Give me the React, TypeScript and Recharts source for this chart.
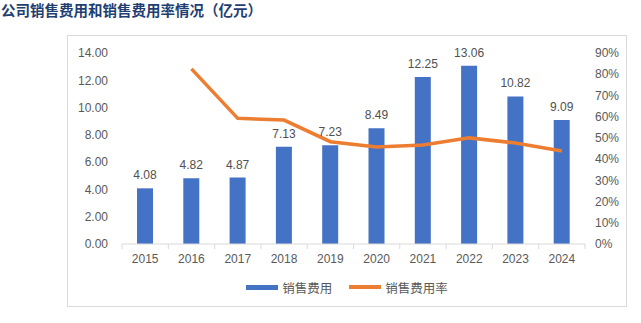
import React from 'react';
import { ComposedChart, Bar, Line, XAxis, YAxis, Legend, LabelList } from 'recharts';

const years = ['2015', '2016', '2017', '2018', '2019', '2020', '2021', '2022', '2023', '2024'];
const salesExpense = [4.08, 4.82, 4.87, 7.13, 7.23, 8.49, 12.25, 13.06, 10.82, 9.09];
const salesExpenseRate: (number | null)[] = [null, 82.5, 59.2, 58.4, 48.2, 45.7, 46.7, 50.0, 47.6, 43.8];
const leftTicks = [0, 2, 4, 6, 8, 10, 12, 14];
const rightTicks = [0, 10, 20, 30, 40, 50, 60, 70, 80, 90];

const data = years.map((y, i) => ({ year: y, expense: salesExpense[i], rate: salesExpenseRate[i] }));

const FONT = '"Liberation Sans", "Noto Sans CJK SC", sans-serif';
const GRAY = '#595959';

const XTick = (props: any) => {
  const { x, y, payload, index, width, visibleTicksCount } = props;
  const band = width / (visibleTicksCount || years.length);
  const axisY = y - 10;
  return (
    <g>
      <line x1={x - band / 2} x2={x - band / 2} y1={axisY} y2={axisY + 5} stroke="#d9d9d9" />
      {index === years.length - 1 && (
        <line x1={x + band / 2} x2={x + band / 2} y1={axisY} y2={axisY + 5} stroke="#d9d9d9" />
      )}
      <text x={x} y={y} dy="0.71em" textAnchor="middle" fill={GRAY} fontSize={12} fontFamily={FONT}>
        {payload.value}
      </text>
    </g>
  );
};

const LegendContent = (props: any) => {
  const { payload } = props;
  return (
    <div style={{ display: 'flex', justifyContent: 'center', alignItems: 'center', height: 24, fontFamily: FONT }}>
      {payload.map((p: any, i: number) => (
        <div key={i} style={{ display: 'flex', alignItems: 'center', marginLeft: i === 0 ? 0 : 17 }}>
          <div style={{ width: 32, height: p.type === 'line' ? 3.5 : 5, background: p.color, marginRight: 4 }} />
          <span style={{ fontSize: 12.5, color: GRAY }}>{p.value}</span>
        </div>
      ))}
    </div>
  );
};

export default function App() {
  return (
    <div style={{ position: 'absolute', left: 0, top: 0, width: 641, height: 323, background: '#fff' }}>
      <div
        style={{
          position: 'absolute',
          left: 1,
          top: 1,
          fontFamily: '"Noto Sans CJK SC", sans-serif',
          fontWeight: 'bold',
          fontSize: 14.5,
          lineHeight: '18px',
          color: '#1F3F73',
          whiteSpace: 'nowrap',
        }}
      >
        公司销售费用和销售费用率情况（亿元）
      </div>
      <div
        style={{
          position: 'absolute',
          left: 67,
          top: 35,
          width: 560,
          height: 272,
          border: '1px solid #d9d9d9',
          boxSizing: 'border-box',
        }}
      >
        <ComposedChart width={558} height={270} data={data} margin={{ top: 17, right: 0, left: 0, bottom: 7 }}>
          <XAxis
            dataKey="year"
            height={31}
            tickLine={false}
            tickSize={0}
            tickMargin={10}
            axisLine={{ stroke: '#d9d9d9' }}
            tick={<XTick />}
            interval={0}
          />
          <YAxis
            yAxisId="left"
            width={54}
            domain={[0, 14]}
            ticks={leftTicks}
            tickFormatter={(v: number) => v.toFixed(2)}
            axisLine={false}
            tickLine={false}
            tickSize={0}
            tickMargin={14}
            tick={{ fill: GRAY, fontSize: 12, fontFamily: FONT }}
          />
          <YAxis
            yAxisId="right"
            orientation="right"
            width={41}
            domain={[0, 90]}
            ticks={rightTicks}
            tickFormatter={(v: number) => `${v}%`}
            axisLine={false}
            tickLine={false}
            tickSize={0}
            tickMargin={10}
            tick={{ fill: GRAY, fontSize: 12, fontFamily: FONT, textAnchor: 'start' }}
          />
          <Legend verticalAlign="bottom" height={24} content={<LegendContent />} />
          <Bar yAxisId="left" dataKey="expense" name="销售费用" fill="#4472C4" barSize={16} isAnimationActive={false} legendType="rect">
            <LabelList
              dataKey="expense"
              position="top"
              offset={9}
              formatter={(v: number) => v.toFixed(2)}
              style={{ fill: '#505050', fontSize: 12, fontFamily: FONT }}
            />
          </Bar>
          <Line
            yAxisId="right"
            dataKey="rate"
            name="销售费用率"
            stroke="#ED7D31"
            strokeWidth={3.5}
            dot={false}
            activeDot={false}
            type="linear"
            isAnimationActive={false}
            legendType="line"
          />
        </ComposedChart>
      </div>
    </div>
  );
}
